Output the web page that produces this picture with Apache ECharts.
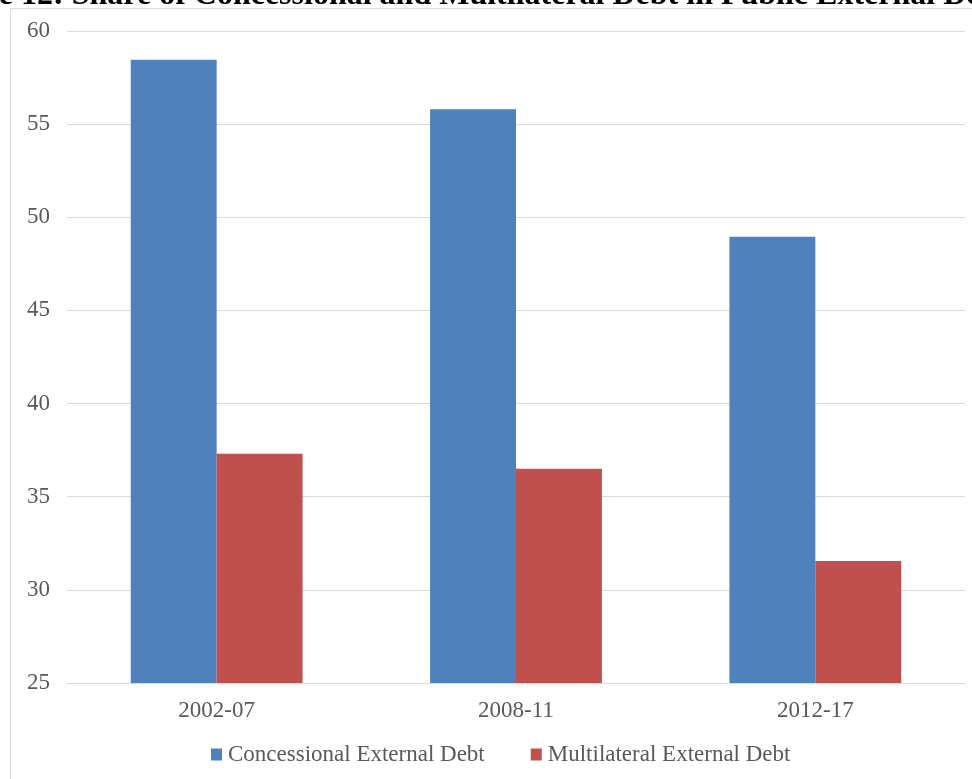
<!DOCTYPE html>
<html><head><meta charset="utf-8">
<script src="https://cdn.jsdelivr.net/npm/echarts@6/dist/echarts.min.js"></script>
<style>html,body{margin:0;padding:0;background:#fff}#c{width:972px;height:779px}</style>
</head><body><div id="c"></div>
<script>
const categories = ['2002-07', '2008-11', '2012-17'];
const concessional = [58.45, 55.8, 48.95];
const multilateral = [37.3, 36.5, 31.55];
const seriesNames = ['Concessional External Debt', 'Multilateral External Debt'];
const titleText = 'Figure 12: Share of Concessional and Multilateral Debt in Public External Debt';

const chart = echarts.init(document.getElementById('c'));
const font = '"Liberation Serif", "Times New Roman", serif';
chart.setOption({
  animation: false,
  backgroundColor: '#fff',
  graphic: [
    { type: 'rect', shape: { x: 10.5, y: 8.5, width: 980, height: 800 },
      style: { fill: 'none', stroke: '#d9d9d9', lineWidth: 1 }, silent: true },
    { type: 'text', x: -77, y: 12,
      style: { text: titleText, font: 'bold 32px ' + font, fill: '#000', verticalAlign: 'bottom', align: 'left' } }
  ],
  grid: { left: 67, right: 7, top: 31, bottom: 96, containLabel: false },
  legend: {
    bottom: 8, left: 206, itemWidth: 11, itemHeight: 12, itemGap: 46, icon: 'rect',
    textStyle: { fontFamily: font, fontSize: 23, color: '#595959', padding: [0, 0, 0, 1] },
    data: seriesNames
  },
  xAxis: {
    type: 'category', data: categories,
    axisLine: { lineStyle: { color: '#d9d9d9' } },
    axisTick: { show: false },
    axisLabel: { fontFamily: font, fontSize: 23, color: '#595959', margin: 16 }
  },
  yAxis: {
    type: 'value', min: 25, max: 60, interval: 5,
    axisLine: { show: false }, axisTick: { show: false },
    splitLine: { lineStyle: { color: '#d9d9d9' } },
    axisLabel: { fontFamily: font, fontSize: 23, color: '#595959', margin: 17, align: 'right' }
  },
  series: [
    { name: seriesNames[0], type: 'bar', data: concessional, barWidth: '28.7%', barGap: '0%',
      itemStyle: { color: '#4f81bd' } },
    { name: seriesNames[1], type: 'bar', data: multilateral, barWidth: '28.7%', barGap: '0%',
      itemStyle: { color: '#c0504d' } }
  ]
});
</script></body></html>
